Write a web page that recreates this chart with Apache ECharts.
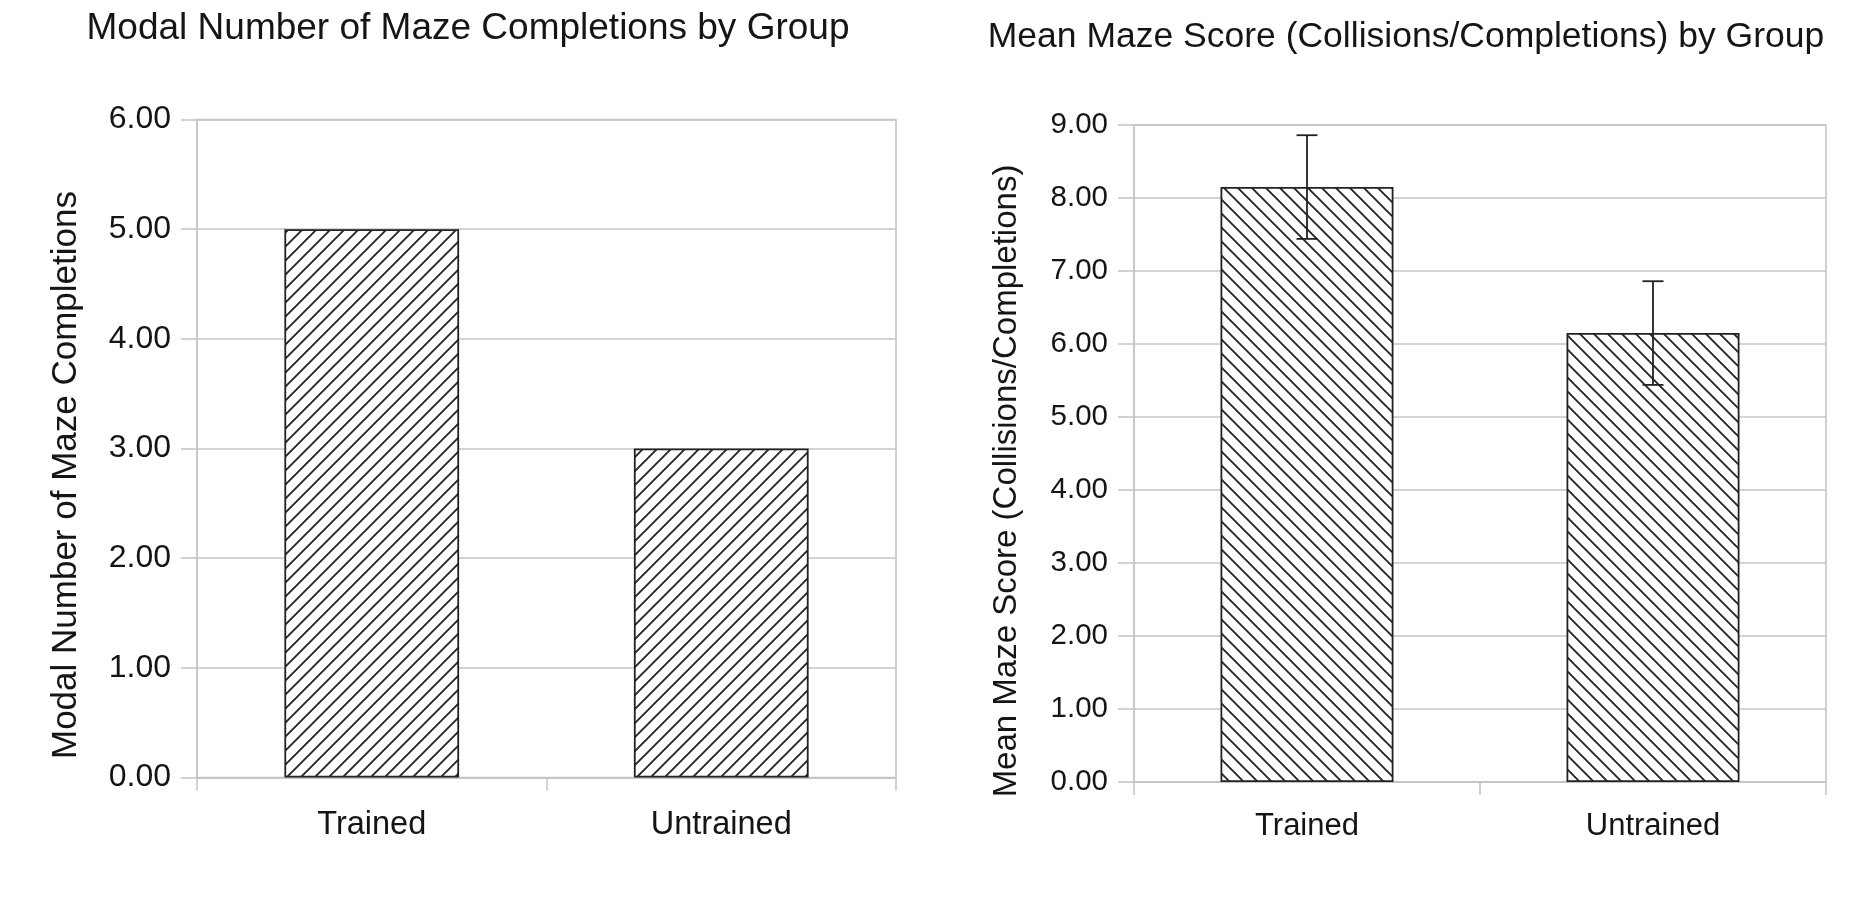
<!DOCTYPE html>
<html>
<head>
<meta charset="utf-8">
<script src="https://cdn.jsdelivr.net/npm/echarts@6/dist/echarts.min.js"></script>
<style>
html,body{margin:0;padding:0;background:#fff;}
#chart{width:1874px;height:898px;}
</style>
</head>
<body>
<div id="chart"></div>
<script>
// ---- data ----
const categories = ['Trained', 'Untrained'];
const modalCompletions = [5, 3];
const meanScore = [8.15, 6.15];
const meanScoreErr = [0.71, 0.71];
const leftTitle = 'Modal Number of Maze Completions by Group';
const rightTitle = 'Mean Maze Score (Collisions/Completions) by Group';
const leftYName = 'Modal Number of Maze Completions';
const rightYName = 'Mean Maze Score (Collisions/Completions)';

// ---- hatch patterns ----
function hatch(dir, size, lw, color) {
  const c = document.createElement('canvas');
  c.width = size; c.height = size;
  const g = c.getContext('2d');
  g.fillStyle = '#fff'; g.fillRect(0, 0, size, size);
  g.strokeStyle = color; g.lineWidth = lw;
  g.beginPath();
  if (dir === '/') {
    g.moveTo(-2, size + 2); g.lineTo(size + 2, -2);
    g.moveTo(-2, 2); g.lineTo(2, -2);
    g.moveTo(size - 2, size + 2); g.lineTo(size + 2, size - 2);
  } else {
    g.moveTo(-2, -2); g.lineTo(size + 2, size + 2);
    g.moveTo(size - 2, -2); g.lineTo(size + 2, 2);
    g.moveTo(-2, size - 2); g.lineTo(2, size + 2);
  }
  g.stroke();
  return c;
}
const patLeft = { image: hatch('/', 14, 1.9, '#262626'), repeat: 'repeat' };
const patRight = { image: hatch('\\', 14, 1.9, '#262626'), repeat: 'repeat' };

const FONT = "'Liberation Sans', Arial, sans-serif";
const TXT = '#151515';
const GRID = '#c4c4c4';

const errData = categories.map((c, i) => [i, meanScore[i] - meanScoreErr[i], meanScore[i] + meanScoreErr[i]]);

function yAxisCfg(gi, max, fs) {
  return {
    type: 'value', gridIndex: gi, min: 0, max: max, interval: 1,
    axisLine: { show: true, lineStyle: { color: GRID, width: 1.5 } },
    axisTick: { show: true, length: 16, lineStyle: { color: GRID, width: 1.5 } },
    splitLine: { show: true, lineStyle: { color: GRID, width: 1.5 } },
    axisLabel: { formatter: v => v.toFixed(2), color: TXT, fontSize: fs, fontFamily: FONT, margin: 26 }
  };
}
function xAxisCfg(gi, fs, margin) {
  return {
    type: 'category', gridIndex: gi, data: categories, boundaryGap: true,
    axisLine: { show: true, lineStyle: { color: GRID, width: 1.5 } },
    axisTick: { show: true, length: 13, interval: 0, lineStyle: { color: GRID, width: 1.5 } },
    axisLabel: { color: TXT, fontSize: fs, fontFamily: FONT, margin: margin, interval: 0 }
  };
}

const chart = echarts.init(document.getElementById('chart'), null, { renderer: 'canvas' });
chart.setOption({
  backgroundColor: '#fff',
  animation: false,
  title: [
    { text: leftTitle, left: 463, top: 5, textAlign: 'center',
      textStyle: { fontSize: 37, fontWeight: 'normal', color: TXT, fontFamily: FONT } },
    { text: rightTitle, left: 1401, top: 14, textAlign: 'center',
      textStyle: { fontSize: 35.5, fontWeight: 'normal', color: TXT, fontFamily: FONT } }
  ],
  graphic: [
    { type: 'text', x: 66, y: 475, rotation: Math.PI / 2,
      style: { text: leftYName, fill: TXT, font: "35px 'Liberation Sans', Arial, sans-serif", textAlign: 'center', textVerticalAlign: 'middle' } },
    { type: 'text', x: 1007, y: 481, rotation: Math.PI / 2,
      style: { text: rightYName, fill: TXT, font: "33px 'Liberation Sans', Arial, sans-serif", textAlign: 'center', textVerticalAlign: 'middle' } }
  ],
  grid: [
    { left: 197, width: 699, top: 119.5, height: 658, show: true, borderColor: GRID, borderWidth: 1.5 },
    { left: 1134, width: 692, top: 125, height: 657, show: true, borderColor: GRID, borderWidth: 1.5 }
  ],
  xAxis: [xAxisCfg(0, 32.5, 31), xAxisCfg(1, 31, 29)],
  yAxis: [yAxisCfg(0, 6, 32), yAxisCfg(1, 9, 29.5)],
  series: [
    { type: 'bar', xAxisIndex: 0, yAxisIndex: 0, data: modalCompletions, barWidth: '50%',
      itemStyle: { color: patLeft, borderColor: '#222', borderWidth: 1.8 } },
    { type: 'bar', xAxisIndex: 1, yAxisIndex: 1, data: meanScore, barWidth: '50%',
      itemStyle: { color: patRight, borderColor: '#222', borderWidth: 1.8 } },
    { type: 'custom', xAxisIndex: 1, yAxisIndex: 1, data: errData, z: 10,
      renderItem: function (params, api) {
        const x = api.value(0);
        const lo = api.coord([x, api.value(1)]);
        const hi = api.coord([x, api.value(2)]);
        const hw = 10.5;
        const st = { stroke: '#222', lineWidth: 1.8 };
        return { type: 'group', children: [
          { type: 'line', shape: { x1: hi[0], y1: hi[1], x2: lo[0], y2: lo[1] }, style: st },
          { type: 'line', shape: { x1: hi[0] - hw, y1: hi[1], x2: hi[0] + hw, y2: hi[1] }, style: st },
          { type: 'line', shape: { x1: lo[0] - hw, y1: lo[1], x2: lo[0] + hw, y2: lo[1] }, style: st }
        ] };
      } }
  ]
});
</script>
</body>
</html>
